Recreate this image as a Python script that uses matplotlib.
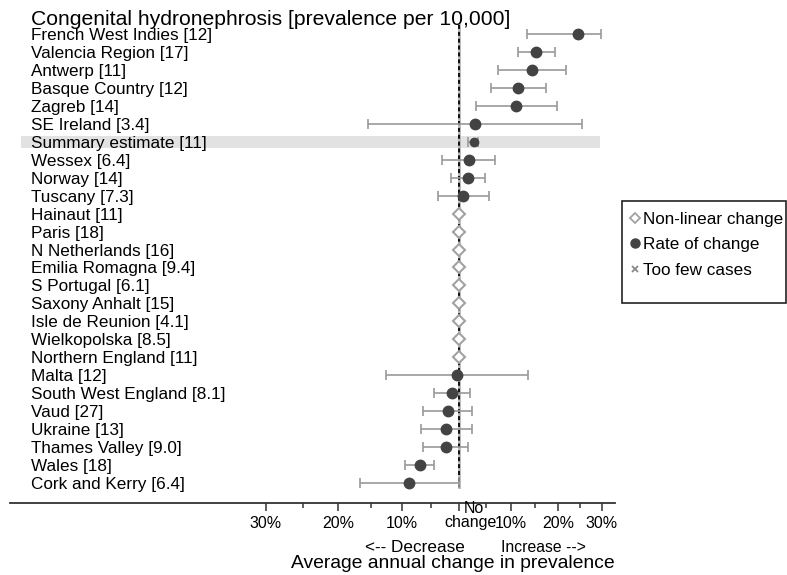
import numpy as np
import matplotlib
matplotlib.use("Agg")
import matplotlib.pyplot as plt
from matplotlib.transforms import blended_transform_factory, offset_copy
from matplotlib.patches import Rectangle
from matplotlib.lines import Line2D

plt.rcParams['font.family'] = ['Liberation Sans', 'DejaVu Sans']

# registries, top to bottom
labels = ["French West Indies [12]", "Valencia Region [17]", "Antwerp [11]",
          "Basque Country [12]", "Zagreb [14]", "SE Ireland [3.4]",
          "Summary estimate [11]", "Wessex [6.4]", "Norway [14]", "Tuscany [7.3]",
          "Hainaut [11]", "Paris [18]", "N Netherlands [16]", "Emilia Romagna [9.4]",
          "S Portugal [6.1]", "Saxony Anhalt [15]", "Isle de Reunion [4.1]",
          "Wielkopolska [8.5]", "Northern England [11]", "Malta [12]",
          "South West England [8.1]", "Vaud [27]", "Ukraine [13]",
          "Thames Valley [9.0]", "Wales [18]", "Cork and Kerry [6.4]"]
kind = ["rate"] * 10 + ["nonlinear"] * 9 + ["rate"] * 7
# average annual change, % (nan = no interval)
rate = [24.4, 15.3, 14.4, 11.5, 11.1, 2.9, 2.7, 1.8, 1.6, 0.7,
        0, 0, 0, 0, 0, 0, 0, 0, 0,
        -0.5, -1.3, -2.1, -2.4, -2.5, -7.0, -8.9]
lower = [13.2, 11.5, 7.5, 6.0, 3.2, -15.5, 1.7, -3.1, -1.6, -3.9,
         np.nan, np.nan, np.nan, np.nan, np.nan, np.nan, np.nan, np.nan, np.nan,
         -12.7, -4.6, -6.4, -6.9, -6.5, -9.5, -16.8]
upper = [29.9, 19.4, 21.8, 17.3, 19.7, 25.3, 3.6, 6.9, 4.9, 5.6,
         np.nan, np.nan, np.nan, np.nan, np.nan, np.nan, np.nan, np.nan, np.nan,
         13.5, 2.0, 2.4, 2.4, 1.6, -4.5, -0.1]
summary_row = 6

major_pct = [-30, -20, -10, 10, 20, 30]
minor_pct = [-25, -15, -5, 5, 15, 25]
tick_text = ["30%", "20%", "10%", "10%", "20%", "30%"]

W, H = 787, 575
fig = plt.figure(figsize=(W / 100, H / 100), dpi=100)


def fx(px):
    return px / W


def fy(py):
    return 1 - py / H


def lg(p):
    return np.log1p(np.asarray(p, dtype=float) / 100)


# axes: x in log(1 + change), rows 1..26 downwards
ax = fig.add_axes([fx(10), fy(503), fx(615) - fx(10), fy(10) - fy(503)])
n = len(labels)
y = np.arange(1, n + 1)
ax.set_xlim((10 - 459.3) / 542, (615 - 459.3) / 542)
ax.set_ylim(1 + (503 - 34) / 17.96, 1 - (34 - 10) / 17.96)

for s in ["top", "right", "left"]:
    ax.spines[s].set_visible(False)
ax.spines["bottom"].set_linewidth(1.3)
ax.spines["bottom"].set_color("#333333")
ax.set_yticks([])

ax.set_xticks(list(lg(major_pct)) + [0.0])
ax.set_xticklabels(tick_text + [""], fontsize=11.5)
ax.set_xticks(lg(minor_pct), minor=True)
ax.tick_params(axis="x", which="major", length=6, width=1.1, color="#333333", pad=3)
ax.tick_params(axis="x", which="minor", length=3.5, width=1.1, color="#333333")

# summary band
ax.axhspan(summary_row + 1 - 0.32, summary_row + 1 + 0.32,
           xmin=(21 - 10) / 605, xmax=(600 - 10) / 605,
           color="#e2e2e2", lw=0, zorder=0)

# no-change line
ax.plot([0, 0], [0.5, 26.2], color="#b5b5b5", lw=2.0, zorder=1)
ax.plot([0, 0], [0.5, 26.2], color="black", lw=1.3, ls=(0, (2.2, 1.6)), zorder=1.5)

rate = np.array(rate)
lower = np.array(lower)
upper = np.array(upper)
xr = lg(rate)
xl = lg(lower)
xu = lg(upper)

is_rate = np.array([k == "rate" for k in kind])
main = is_rate.copy()
main[summary_row] = False

ax.errorbar(xr[main], y[main], xerr=[xr[main] - xl[main], xu[main] - xr[main]],
            fmt="none", ecolor="#9a9a9a", elinewidth=1.2, capsize=3.5,
            capthick=1.2, zorder=2)
ax.plot(xr[main], y[main], "o", color="#434343", ms=7.5, zorder=3)

# summary estimate
s = summary_row
ax.errorbar([xr[s]], [y[s]], xerr=[[xr[s] - xl[s]], [xu[s] - xr[s]]],
            fmt="none", ecolor="#9a9a9a", elinewidth=1.2, capsize=3.5,
            capthick=1.2, zorder=2)
ax.plot([xr[s]], [y[s]], "o", color="#434343", ms=6, zorder=3)

nl = ~is_rate
ax.plot(xr[nl], y[nl], "D", mfc="white", mec="#a2a2a2", mew=1.5, ms=6.5, zorder=3)

# row labels
lab_tr = offset_copy(blended_transform_factory(fig.transFigure, ax.transData),
                     fig=fig, x=0, y=-6, units="dots")
for yi, t in zip(y, labels):
    ax.text(fx(31), yi, t, transform=lab_tr, fontsize=12.3, ha="left",
            va="baseline", clip_on=False, zorder=4)

fig.text(fx(31), fy(25), "Congenital hydronephrosis [prevalence per 10,000]",
         fontsize=15.2, ha="left", va="baseline")

# axis captions
fig.text(fx(474), fy(513), "No", fontsize=11.5, ha="center", va="baseline")
fig.text(fx(471), fy(527), "change", fontsize=11.5, ha="center", va="baseline")
fig.text(fx(415), fy(552), "<-- Decrease", fontsize=12.3, ha="center", va="baseline")
fig.text(fx(543), fy(552), "Increase -->", fontsize=11.3, ha="center", va="baseline")
fig.text(fx(453), fy(568), "Average annual change in prevalence", fontsize=13.9,
         ha="center", va="baseline")

# legend box
fig.patches.append(Rectangle((fx(622), fy(303)), fx(786) - fx(622), fy(200.7) - fy(303),
                             transform=fig.transFigure, fill=False, ec="#222222",
                             lw=1.2))
leg_items = [("D", dict(mfc="white", mec="#a2a2a2", mew=1.3, ms=5.5), "Non-linear change", 218.3),
             ("o", dict(color="#434343", ms=6.5), "Rate of change", 243.3),
             ("x", dict(color="#8a8a8a", mew=1.3, ms=5), "Too few cases", 269.3)]
for m, kw, t, py in leg_items:
    fig.lines.append(Line2D([fx(634.5)], [fy(py)], marker=m, ls="none",
                            transform=fig.transFigure, **kw))
    fig.text(fx(643), fy(py + 5.5), t, fontsize=12.3, ha="left", va="baseline")

fig.savefig("out.png", dpi=100)
